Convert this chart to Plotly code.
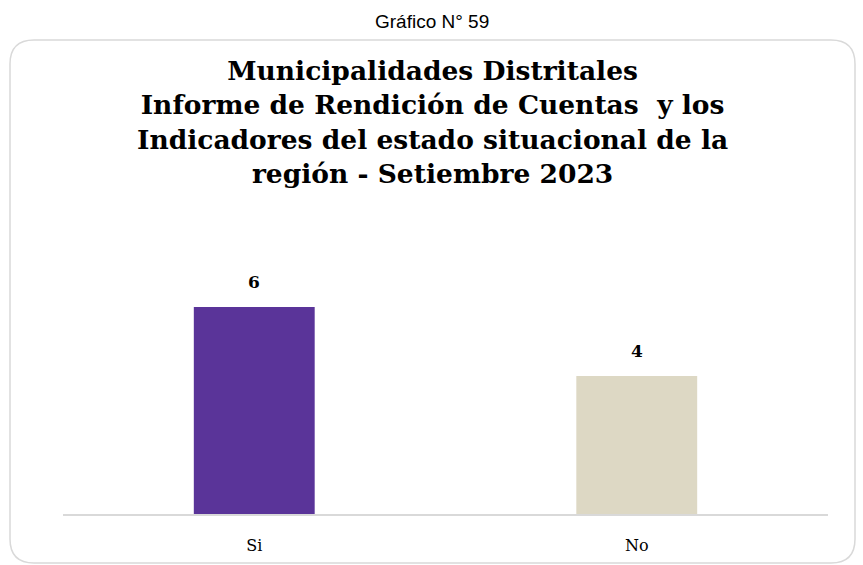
import plotly.graph_objects as go

# Survey result: district municipalities, September 2023
categories = ["Si", "No"]
values = [6, 4]
bar_colors = ["#5a3499", "#ddd8c4"]

chart_number = "Gráfico N° 59"
title_lines = [
    "Municipalidades Distritales",
    "Informe de Rendición de Cuentas  y los",
    "Indicadores del estado situacional de la",
    "región - Setiembre 2023",
]

W, H = 863, 565
SERIF = "DejaVu Serif"

fig = go.Figure()

fig.add_trace(go.Bar(
    x=categories,
    y=values,
    marker=dict(color=bar_colors, line=dict(width=0)),
    hoverinfo="skip",
    xaxis="x",
    yaxis="y",
))

# Value labels above each bar
for cat, val in zip(categories, values):
    fig.add_annotation(
        x=cat, y=val, xref="x", yref="y",
        text=f"<b>{val}</b>", showarrow=False,
        yanchor="bottom", yshift=13,
        font=dict(family=SERIF, size=17, color="#000000"),
    )

# Pixel-based axes spanning the whole page, for the frame and header text
fig.add_trace(go.Scatter(x=[0, W], y=[0, H], mode="markers",
                         marker=dict(opacity=0), hoverinfo="skip",
                         xaxis="x2", yaxis="y2", showlegend=False))

x0, y0, x1, y1, r = 10, 40, 855, 563, 24
frame = (f"M {x0+r},{y0} L {x1-r},{y0} Q {x1},{y0} {x1},{y0+r} "
         f"L {x1},{y1-r} Q {x1},{y1} {x1-r},{y1} "
         f"L {x0+r},{y1} Q {x0},{y1} {x0},{y1-r} "
         f"L {x0},{y0+r} Q {x0},{y0} {x0+r},{y0} Z")
fig.add_shape(type="path", path=frame, xref="x2", yref="y2",
              line=dict(color="#d9d9d9", width=1.5), fillcolor="rgba(0,0,0,0)",
              layer="below")

fig.add_annotation(
    x=432, y=21, xref="x2", yref="y2", text=chart_number, showarrow=False,
    font=dict(family="Liberation Sans", size=19, color="#000000"),
)
fig.add_annotation(
    x=432, y=122, xref="x2", yref="y2",
    text="<br>".join(f"<b>{t}</b>" for t in title_lines), showarrow=False,
    align="center",
    font=dict(family=SERIF, size=26.5, color="#000000"),
)

baseline = 514
px_per_unit = 34.5
y_top = 8
dom_bottom = 1 - baseline / H
dom_top = 1 - (baseline - y_top * px_per_unit) / H

fig.update_layout(
    width=W, height=H,
    margin=dict(l=0, r=0, t=0, b=0),
    paper_bgcolor="white", plot_bgcolor="rgba(0,0,0,0)",
    showlegend=False,
    bargap=0.684,
    xaxis=dict(
        domain=[63 / W, 828 / W],
        showline=True, linecolor="#d9d9d9", linewidth=2,
        showgrid=False, zeroline=False,
        ticks="", ticklabelstandoff=16,
        tickfont=dict(family=SERIF, size=16, color="#000000"),
    ),
    yaxis=dict(
        domain=[dom_bottom, dom_top], range=[0, y_top],
        visible=False, showgrid=False, zeroline=False,
    ),
    xaxis2=dict(domain=[0, 1], range=[0, W], visible=False, anchor="y2"),
    yaxis2=dict(domain=[0, 1], range=[H, 0], visible=False, anchor="x2"),
)

fig.write_html("out.html")
